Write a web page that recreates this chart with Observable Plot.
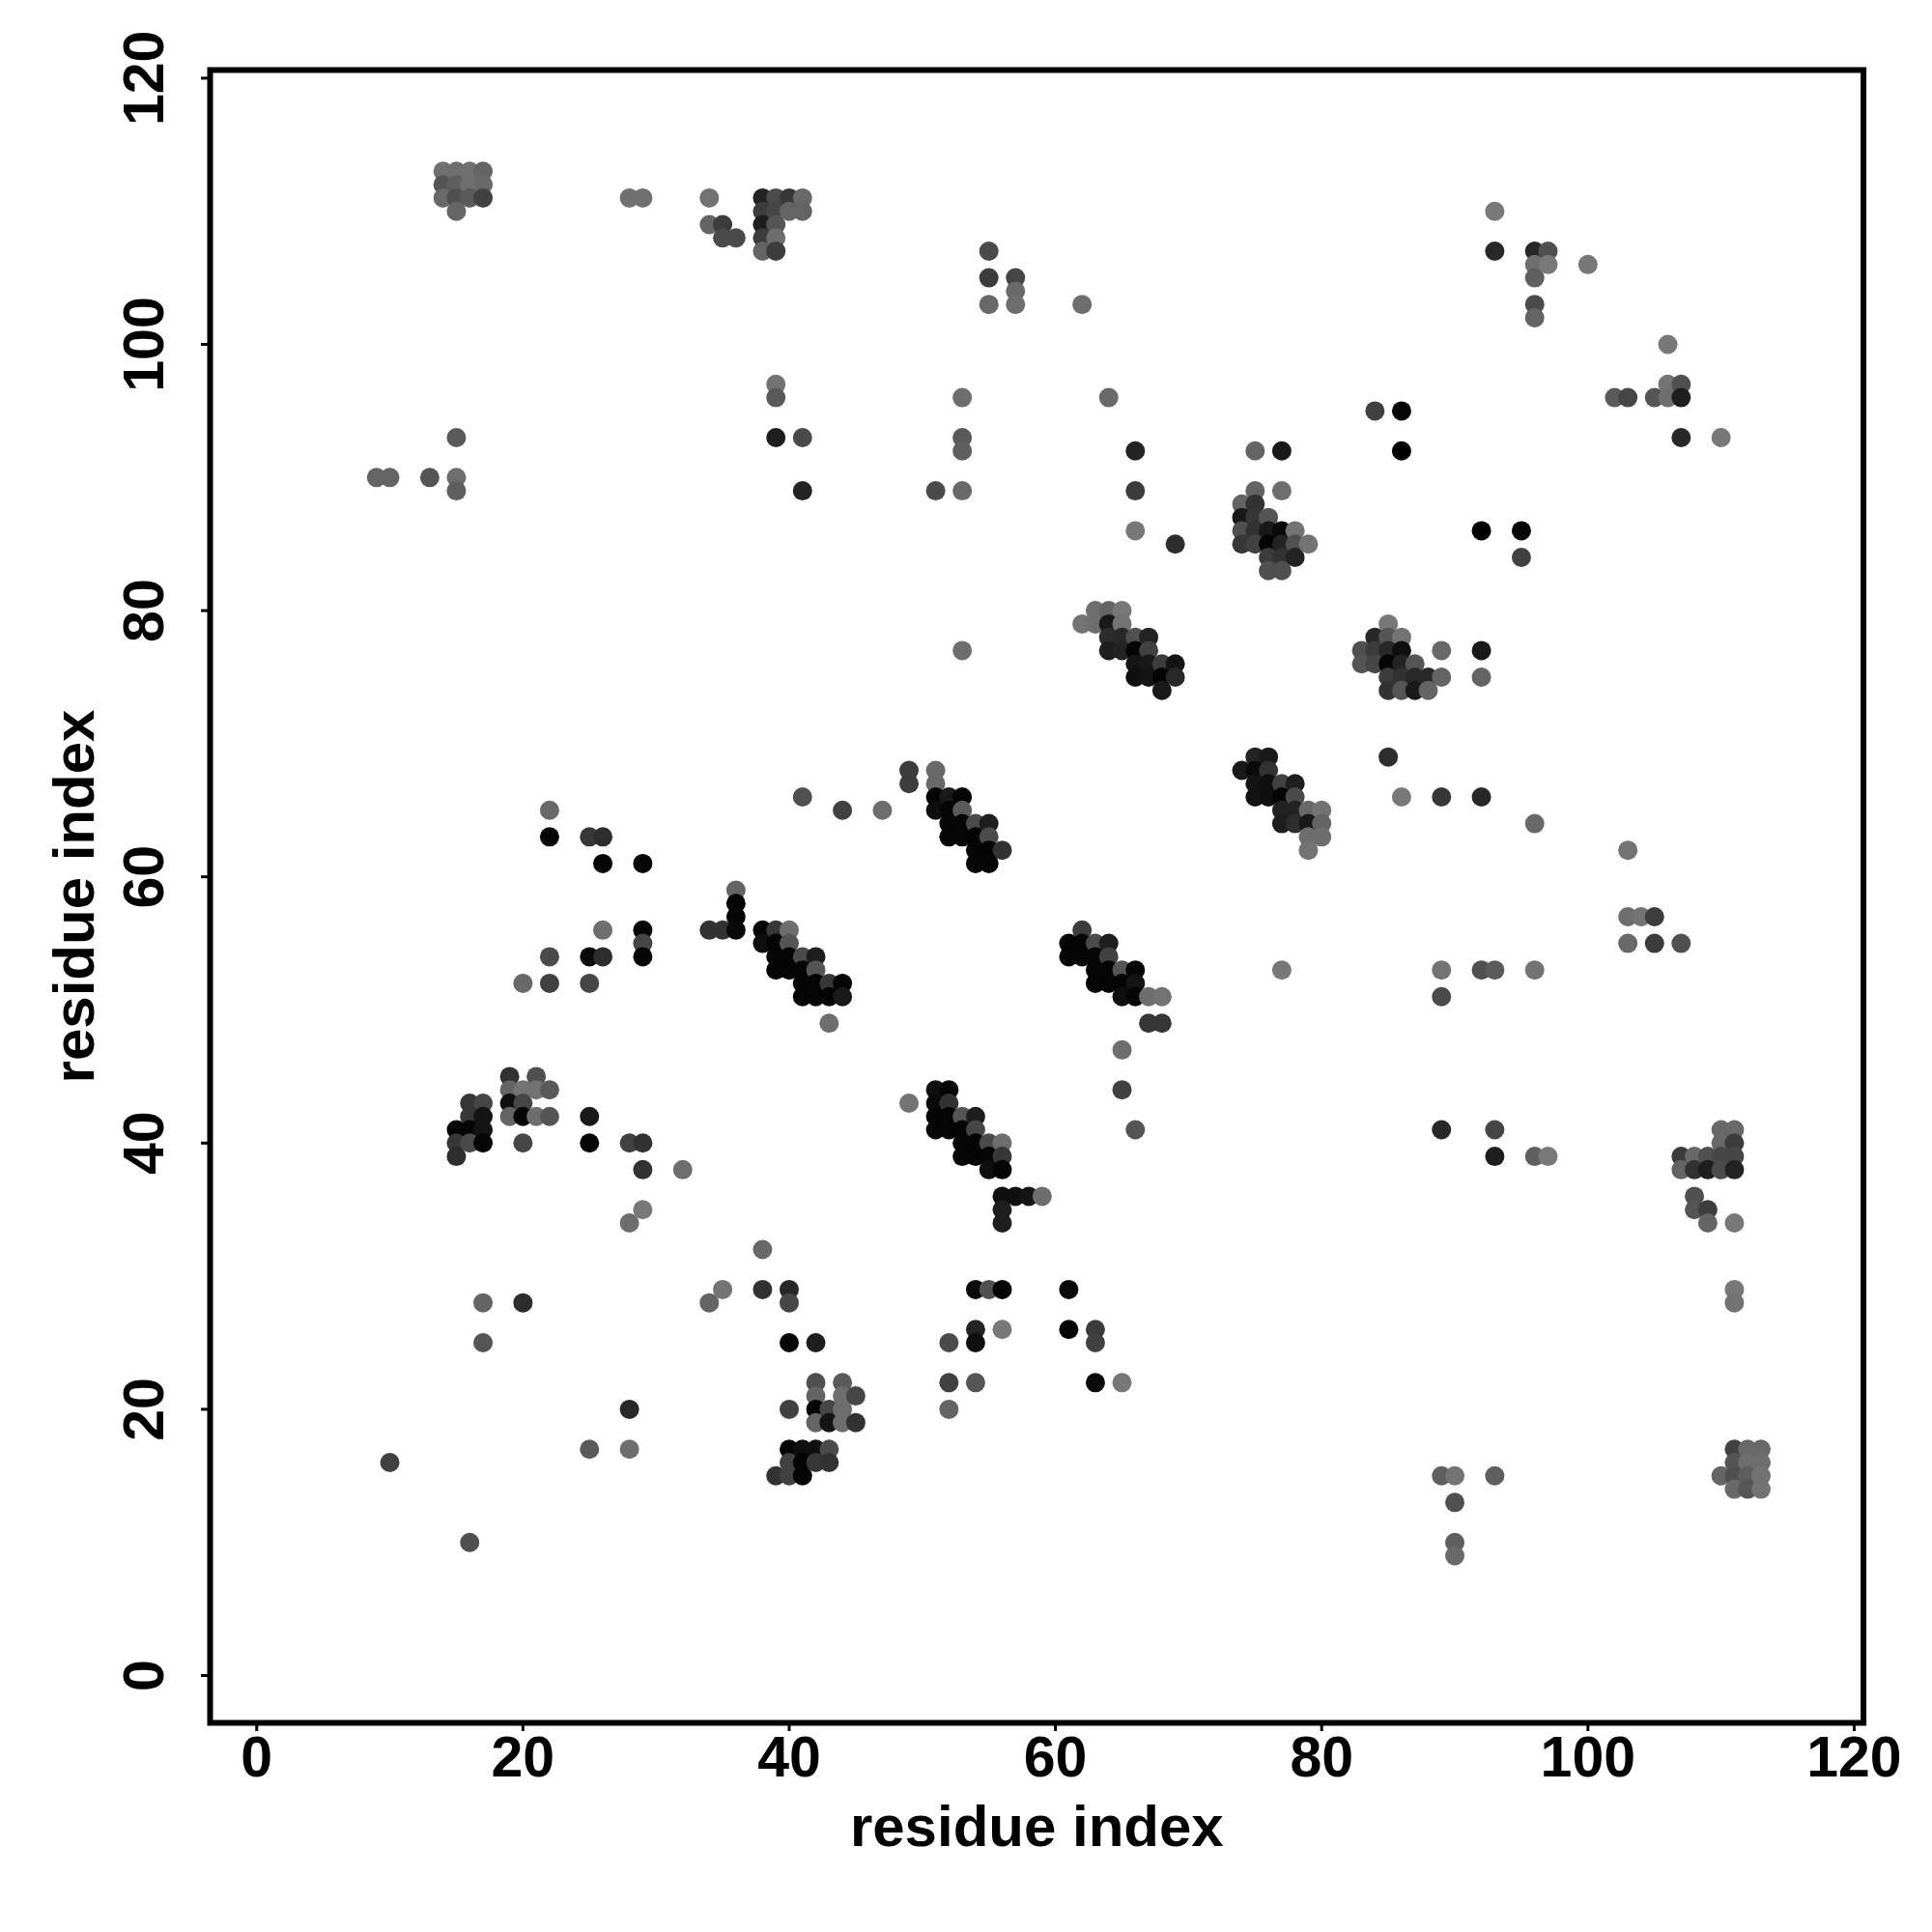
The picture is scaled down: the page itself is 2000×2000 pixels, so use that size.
<!DOCTYPE html>
<html>
<head>
<meta charset="utf-8">
<style>html,body{margin:0;padding:0;background:#fff}svg{display:block}</style>
<script src="https://cdn.jsdelivr.net/npm/d3@7"></script>
<script src="https://cdn.jsdelivr.net/npm/@observablehq/plot@0.6"></script>
</head>
<body>
<div id="chart"></div>
<script>
// each contact: [residue x, residue y, grey level 0-255]
const sheetTopLeft = [
[14,113,112],[15,113,110],[16,113,112],[17,113,100],
[14,112,85],[15,112,95],[16,112,110],[17,112,105],
[14,111,105],[15,111,80],[16,111,90],[17,111,65],[15,110,100],
[28,111,112],[29,111,112],[34,111,115],[34,109,100],[35,109,60],[35,108,75],[36,108,75],
[38,111,35],[38,110,60],[38,109,30],[38,108,60],[38,107,100],
[39,111,75],[39,110,70],[39,109,85],[39,108,110],[39,107,60],
[40,111,55],[40,110,100],[41,111,105],[41,110,100]
];
const sparseUpperLeft = [
[15,93,90],[9,90,100],[10,90,100],[13,90,85],[15,90,110],[15,89,95],
[39,97,115],[39,96,90],[39,93,30],[41,93,75],[41,89,35],
[53,96,110],[53,93,90],[53,92,95],[51,89,75],[53,89,105],[53,77,110],
[55,107,75],[55,105,60],[55,103,105],[57,105,70],[57,104,105],[57,103,110],[62,103,110],
[64,96,105],[66,92,35],[66,89,60],[66,86,120],[69,85,45],[75,92,100],[77,92,25]
];
const sparseUpperRight = [
[84,95,65],[86,95,5],[86,92,0],[92,86,0],[95,86,5],[95,84,65],
[93,110,120],[93,107,40],[96,107,40],[97,107,80],[96,106,110],[97,106,120],[100,106,120],
[96,105,95],[96,103,75],[96,102,100],
[106,100,120],[106,97,115],[107,97,80],[102,96,90],[103,96,70],[105,96,85],[106,96,110],[107,96,30],
[107,93,40],[110,93,120],[92,77,25],[92,75,100],[89,77,105],[89,75,100],
[85,69,45],[86,66,120],[89,66,55],[92,66,40],[96,64,105],[103,62,115],
[103,57,110],[104,57,115],[105,57,60],[103,55,105],[105,55,60],[107,55,80],
[77,53,120],[89,53,115],[92,53,80],[93,53,90],[96,53,115],[89,51,75]
];
const clusterA = [
[75,89,100],[77,89,110],[74,88,100],[75,88,50],[74,87,25],[75,87,55],[76,87,85],
[74,86,80],[75,86,50],[76,86,25],[77,86,10],[78,86,115],
[74,85,55],[75,85,65],[76,85,5],[77,85,35],[78,85,80],[79,85,115],
[76,84,60],[77,84,50],[78,84,35],[76,83,80],[77,83,80]
];
const clusterB = [
[63,80,110],[64,80,100],[65,80,120],[62,79,115],[63,79,110],[64,79,25],[65,79,115],
[64,78,45],[65,78,40],[66,78,80],[67,78,35],[64,77,30],[65,77,35],[66,77,5],[67,77,65],
[66,76,20],[67,76,25],[68,76,60],[69,76,20],[66,75,15],[67,75,20],[68,75,5],[69,75,40],[68,74,25]
];
const clusterC = [
[85,79,120],[84,78,40],[85,78,85],[86,78,115],[83,77,80],[84,77,60],[85,77,40],[86,77,15],
[83,76,85],[84,76,70],[85,76,5],[86,76,35],[87,76,85],
[85,75,60],[86,75,50],[87,75,40],[88,75,40],[85,74,50],[86,74,85],[87,74,25],[88,74,100]
];
const clusterD = [
[75,69,35],[76,69,25],[74,68,25],[75,68,10],[76,68,50],[75,67,20],[76,67,15],[77,67,65],[78,67,30],
[75,66,20],[76,66,15],[77,66,5],[78,66,75],[77,65,35],[78,65,35],[79,65,105],[80,65,115],
[77,64,30],[78,64,45],[79,64,25],[80,64,100],[79,63,110],[80,63,110],[79,62,115]
];
const helixUpper = [
[49,68,60],[49,67,60],[51,68,105],[51,67,105],[41,66,80],[44,65,65],[47,65,110],
[51,66,5],[52,66,25],[53,66,5],[51,65,15],[52,65,5],[53,65,90],
[52,64,5],[53,64,5],[54,64,75],[55,64,30],[52,63,5],[53,63,5],[54,63,5],[55,63,75],
[54,62,5],[55,62,5],[56,62,50],[54,61,5],[55,61,5]
];
const helixLower = [
[34,56,50],[35,56,50],[36,59,100],[36,58,5],[36,57,5],[36,56,10],
[38,56,5],[39,56,55],[40,56,110],[38,55,15],[39,55,5],[40,55,85],
[39,54,5],[40,54,5],[41,54,75],[42,54,30],[39,53,5],[40,53,5],[41,53,5],[42,53,85],
[41,52,5],[42,52,5],[43,52,55],[44,52,5],[41,51,5],[42,51,5],[43,51,5],[44,51,25],[43,49,110]
];
const helixRight = [
[62,56,60],[61,55,5],[62,55,5],[63,55,75],[64,55,30],[61,54,5],[62,54,5],[63,54,5],[64,54,65],
[63,53,5],[64,53,5],[65,53,85],[66,53,5],[63,52,5],[64,52,5],[65,52,5],[66,52,20],
[65,51,15],[66,51,5],[67,51,110],[68,51,115],[67,49,55],[68,49,55],[65,47,110],[65,44,65],[66,41,85]
];
const helixMiddle = [
[51,44,15],[52,44,5],[49,43,115],[51,43,10],[52,43,50],[51,42,5],[52,42,5],[53,42,85],[54,42,30],
[51,41,5],[52,41,5],[53,41,5],[54,41,70],[53,40,5],[54,40,5],[55,40,75],[56,40,110],
[53,39,5],[54,39,5],[55,39,5],[56,39,55],[55,38,15],[56,38,5],
[56,36,15],[57,36,15],[58,36,20],[59,36,110],[56,35,30],[56,34,30]
];
const leftMiddle = [
[22,65,105],[22,63,5],[25,63,55],[26,63,45],[26,61,5],[29,61,5],
[26,56,110],[29,56,5],[29,55,70],[29,54,5],[25,54,10],[26,54,45],[22,54,75],
[20,52,105],[22,52,65],[25,52,70]
];
const sheetLeft = [
[19,45,50],[21,45,80],[19,44,100],[20,44,115],[21,44,115],[22,44,90],
[16,43,55],[17,43,70],[19,43,15],[20,43,70],
[16,42,55],[17,42,20],[19,42,100],[20,42,5],[21,42,110],[22,42,85],[25,42,25],
[15,41,5],[16,41,5],[17,41,20],[15,40,55],[16,40,75],[17,40,5],[20,40,70],[25,40,5],
[28,40,65],[29,40,50],[15,39,45],[29,38,50],[32,38,110],[29,35,120],[28,34,110]
];
const lowerLeft = [
[17,28,100],[17,25,85],[20,28,45],[16,10,80],[10,16,65],[25,17,90],[28,17,110],[28,20,40],
[34,28,100],[35,29,115],[38,32,105],[38,29,50],[40,29,40],[40,28,70],[40,25,5],[42,25,30]
];
const sheetBottom = [
[42,22,80],[44,22,90],[42,21,100],[44,21,110],[45,21,70],
[40,20,65],[42,20,5],[43,20,70],[44,20,110],[42,19,100],[43,19,20],[44,19,110],[45,19,50],
[40,17,5],[41,17,15],[42,17,15],[43,17,75],[40,16,65],[41,16,5],[42,16,55],[43,16,50],
[39,15,50],[40,15,65],[41,15,5]
];
const lowerMiddle = [
[54,29,10],[55,29,80],[56,29,5],[54,26,35],[54,25,15],[56,26,120],
[52,25,75],[52,22,65],[52,20,100],[54,22,85],
[61,29,10],[61,26,5],[63,26,60],[63,25,65],[63,22,10],[65,22,120]
];
const lowerRight = [
[89,41,40],[93,41,70],[93,39,30],[96,39,95],[97,39,120],
[110,41,105],[111,41,105],[110,40,105],[111,40,60],
[107,39,60],[108,39,105],[109,39,80],[110,39,70],[111,39,70],
[107,38,100],[108,38,50],[109,38,30],[110,38,75],[111,38,35],
[108,36,80],[108,35,85],[109,35,60],[109,34,100],[111,34,120],[111,29,120],[111,28,115],
[89,15,95],[90,15,115],[93,15,95],[90,13,80],[90,10,95],[90,9,105],
[111,17,65],[112,17,105],[113,17,105],[111,16,85],[112,16,110],[113,16,110],
[110,15,100],[111,15,80],[112,15,95],[113,15,115],[111,14,105],[112,14,85],[113,14,115]
];
const tickValues = [0,20,40,60,80,100,120];
const axisTitle = "residue index";

const contacts = [sheetTopLeft,sparseUpperLeft,sparseUpperRight,clusterA,clusterB,clusterC,clusterD,
  helixUpper,helixLower,helixRight,helixMiddle,leftMiddle,sheetLeft,lowerLeft,sheetBottom,lowerMiddle,lowerRight]
  .flat()
  .map(([x,y,level]) => ({x,y,level}))
  .sort((a,b) => a.x - b.x || b.y - a.y);

const font = {fontFamily:"'Liberation Sans',Helvetica,Arial,sans-serif", fontWeight:"bold"};

const chart = Plot.plot({
  width:2000, height:2000,
  marginLeft:217, marginRight:71.4, marginTop:72, marginBottom:217,
  style:{background:"#fff", color:"#000", overflow:"visible", ...font},
  x:{domain:[-3.5,120.7]},
  y:{domain:[-3.556,120.61]},
  color:{type:"linear", domain:[0,255], range:["#000","#fff"]},
  marks:[
    Plot.dot(contacts,{x:"x",y:"y",r:10,fill:"level"}),
    Plot.frame({stroke:"#000",strokeWidth:6}),
    Plot.axisX({ticks:tickValues,tickFormat:d=>String(d),tickSize:9,strokeWidth:3,tickPadding:5,
      label:null,fontSize:59,...font}),
    Plot.axisY({ticks:tickValues,tickFormat:d=>String(d),tickSize:9,strokeWidth:3,tickPadding:40,
      tickRotate:-90,label:null,fontSize:59,...font}),
    Plot.axisX({ticks:[],label:axisTitle,labelAnchor:"center",labelArrow:"none",labelOffset:127,fontSize:60,...font}),
    Plot.axisY({ticks:[],label:axisTitle,labelAnchor:"center",labelArrow:"none",labelOffset:163,fontSize:60,...font})
  ]
});
document.getElementById("chart").appendChild(chart);
</script>
</body>
</html>
